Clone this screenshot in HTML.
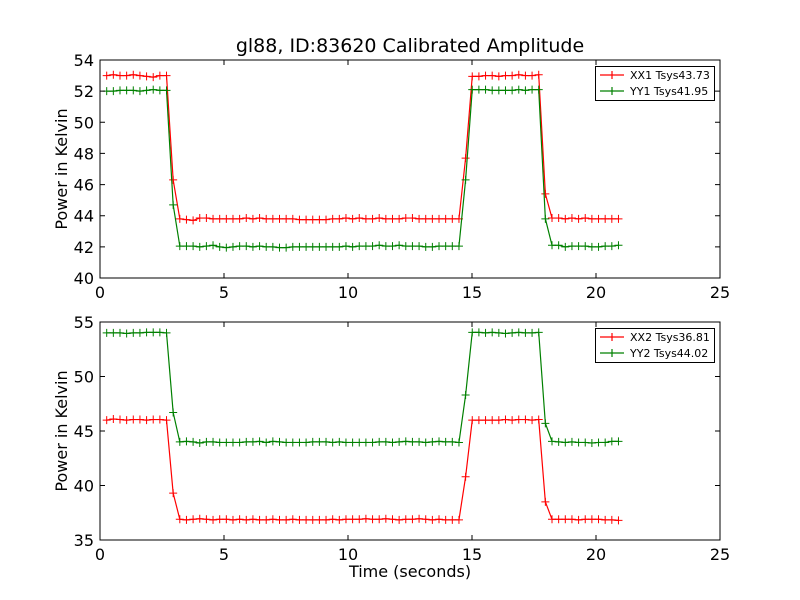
<!DOCTYPE html>
<html><head><meta charset="utf-8"><style>
html,body{margin:0;padding:0;background:#fff;}
svg{display:block;font-family:"DejaVu Sans","Liberation Sans",sans-serif;}
</style></head><body>
<svg id="c" width="800" height="600" xmlns="http://www.w3.org/2000/svg"></svg>
<script>
const xTicks=[0,5,10,15,20,25];
const topYTicks=[40,42,44,46,48,50,52,54];
const botYTicks=[35,40,45,50,55];
const times=[];for(let i=0;i<78;i++)times.push(+(0.27+0.268*i).toFixed(3));
const xx1=[53.0,53.05,53.0,53.0,53.05,53.0,52.95,52.9,53.0,53.0,46.3,
43.8,43.75,43.7,43.85,43.85,43.8,43.8,43.8,43.8,43.8,43.85,43.8,43.85,43.8,43.8,43.8,43.8,43.8,43.75,43.75,43.75,43.75,43.75,43.8,43.8,43.85,43.8,43.85,43.8,43.8,43.85,43.8,43.8,43.8,43.85,43.85,43.8,43.8,43.8,43.8,43.8,43.8,43.8,
47.7,52.95,52.95,53.0,53.0,52.95,53.0,53.0,53.05,53.0,53.0,53.05,45.4,
43.85,43.85,43.8,43.85,43.8,43.85,43.8,43.8,43.8,43.8,43.8];
const yy1=[52.0,52.0,52.05,52.05,52.05,52.0,52.05,52.1,52.05,52.05,44.7,
42.05,42.05,42.05,42.0,42.05,42.1,42.0,41.95,42.0,42.05,42.05,42.0,42.05,42.0,42.0,41.95,41.95,42.0,42.0,42.0,42.0,42.0,42.0,42.0,42.0,42.05,42.0,42.05,42.05,42.05,42.1,42.05,42.05,42.1,42.05,42.05,42.05,42.0,42.0,42.05,42.05,42.05,42.05,
46.3,52.1,52.1,52.1,52.05,52.05,52.05,52.05,52.1,52.05,52.1,52.1,43.8,
42.1,42.1,42.0,42.05,42.05,42.05,42.0,42.0,42.05,42.05,42.1];
const xx2=[46.0,46.1,46.05,46.0,46.05,46.05,46.0,46.05,46.05,46.0,39.3,
36.9,36.85,36.9,36.95,36.9,36.85,36.9,36.9,36.85,36.9,36.85,36.9,36.85,36.85,36.9,36.85,36.85,36.9,36.85,36.85,36.85,36.85,36.85,36.9,36.85,36.9,36.9,36.9,36.95,36.9,36.9,36.95,36.9,36.85,36.9,36.9,36.95,36.9,36.85,36.9,36.85,36.85,36.85,
40.8,46.0,46.0,46.0,46.0,46.0,46.05,46.0,46.05,46.05,46.0,46.05,38.5,
36.9,36.9,36.9,36.9,36.85,36.9,36.9,36.9,36.85,36.85,36.8];
const yy2=[54.0,54.0,54.0,53.95,54.0,54.0,54.05,54.05,54.05,54.0,46.7,
44.0,44.05,44.0,43.9,44.0,44.0,43.95,43.95,43.95,43.95,44.0,44.0,44.05,43.95,44.05,44.0,43.95,43.95,43.95,43.95,44.0,44.0,44.0,43.95,44.0,43.95,43.95,43.95,43.95,43.95,44.0,44.0,43.95,44.0,44.05,44.0,44.0,43.95,44.0,44.05,44.0,44.0,43.95,
48.3,54.05,54.05,54.0,54.05,54.0,53.95,54.0,54.05,54.0,54.0,54.05,45.7,
44.05,44.0,43.95,44.0,43.95,43.95,43.9,43.95,43.95,44.05,44.05];
const legendTop=["XX1 Tsys43.73","YY1 Tsys41.95"];
const legendBot=["XX2 Tsys36.81","YY2 Tsys44.02"];

const svg=document.getElementById('c');
const NS='http://www.w3.org/2000/svg';
function mk(tag,attrs,parent,text){const e=document.createElementNS(NS,tag);for(const k in attrs)e.setAttribute(k,attrs[k]);if(text!=null)e.textContent=text;(parent||svg).appendChild(e);return e;}

function panel(prefix,top,bottom,yMin,yMax,yTicks,s1,s2,legend){
  const L=100,R=720;
  const xs=v=>L+(v-0)/(25-0)*(R-L);
  const ys=v=>bottom-(v-yMin)/(yMax-yMin)*(bottom-top);
  const g=mk('g',{});
  
  
  const series=[[s1,'#ff0000',legend[0]],[s2,'#008000',legend[1]]];
  series.forEach(([vals,col,name])=>{
    const sg=mk('g',{},g);
    
    
    const pts=vals.map((v,i)=>xs(times[i]).toFixed(2)+','+ys(v).toFixed(2)).join(' ');
    const pl=mk('polyline',{points:pts,fill:'none',stroke:col,'stroke-width':1.2},sg);
    
    
    vals.forEach((v,i)=>{
      const x=xs(times[i]),y=ys(v);
      const m=mk('path',{d:`M${x-4},${y}H${x+4}M${x},${y-4}V${y+4}`,stroke:col,'stroke-width':1},sg);
      
      
    });
  });
  const fr=mk('rect',{x:L,y:top,width:R-L,height:bottom-top,fill:'none',stroke:'#000','stroke-width':1},g);
  
  
  xTicks.forEach(t=>{
    const x=xs(t);
    mk('path',{d:`M${x},${bottom}v-5M${x},${top}v5`,stroke:'#000'},g);
    const tx=mk('text',{x:x,y:bottom+20,'text-anchor':'middle','font-size':16},g,String(t));
    
    
  });
  yTicks.forEach(t=>{
    const y=ys(t);
    mk('path',{d:`M${L},${y}h5M${R},${y}h-5`,stroke:'#000'},g);
    const tx=mk('text',{x:L-6,y:y+6,'text-anchor':'end','font-size':16},g,String(t));
    
    
  });
  const yl=mk('text',{x:0,y:0,'text-anchor':'middle','font-size':16,transform:`translate(67,${(top+bottom)/2}) rotate(-90)`},g,'Power in Kelvin');
  
  
  const lg=mk('g',{},g);
  
  
  mk('rect',{x:595.5,y:top+6.5,width:119,height:34,fill:'#fff',stroke:'#000','stroke-width':1},lg);
  series.forEach(([v,col,name],k)=>{
    const y=top+15+k*16;
    mk('path',{d:`M600,${y}H624M612,${y-4}V${y+4}`,stroke:col,'stroke-width':1.2},lg);
    const le=mk('text',{x:630,y:y+4,'font-size':11},lg,name);
    
    
  });
}
panel('top',60,278,40,54,topYTicks,xx1,yy1,legendTop);
panel('bottom',322,540,35,55,botYTicks,xx2,yy2,legendBot);
const title=mk('text',{x:410,y:52,'text-anchor':'middle','font-size':19},svg,'gl88, ID:83620 Calibrated Amplitude');


const xl=mk('text',{x:410,y:577,'text-anchor':'middle','font-size':16},svg,'Time (seconds)');


</script>
</body></html>
